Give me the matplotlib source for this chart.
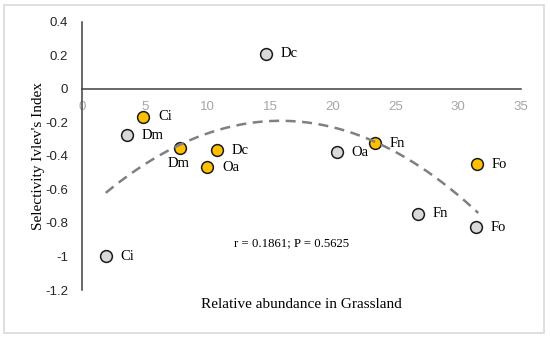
import numpy as np
import matplotlib.pyplot as plt
from matplotlib.patches import Rectangle

# -----------------------------
# Data
# -----------------------------
gray_labels = ["Dc", "Dm", "Ci", "Oa", "Fn", "Fo"]
gray_x = [14.7, 3.6, 1.9, 20.3, 26.8, 31.4]
gray_y = [0.21, -0.275, -1.0, -0.378, -0.745, -0.825]

yellow_labels = ["Ci", "Dm", "Dc", "Oa", "Fn", "Fo"]
yellow_x = [4.9, 7.8, 10.8, 10.0, 23.4, 31.5]
yellow_y = [-0.165, -0.355, -0.365, -0.467, -0.325, -0.45]

# polynomial trendline, three points
trend_x = [1.9, 16.0, 31.6]
trend_y = [-0.62, -0.19, -0.74]

stat_text = "r = 0.1861; P = 0.5625"

# -----------------------------
# Figure
# -----------------------------
fig = plt.figure(figsize=(5.5, 3.38), dpi=100)
fig.patches.append(Rectangle((4 / 550, 5 / 338), 540 / 550, 328 / 338,
                             transform=fig.transFigure, fill=False,
                             edgecolor="#d9d9d9", linewidth=1.2))
ax = fig.add_axes([0.149, 0.142, 0.798, 0.793])

serif = "Liberation Serif"
sans = "Liberation Sans"

# trendline
coef = np.polyfit(trend_x, trend_y, 2)
xs = np.linspace(trend_x[0], trend_x[-1], 200)
ax.plot(xs, np.polyval(coef, xs), color="#808080", lw=1.8,
        dashes=(4, 2.6), zorder=4)

ax.scatter(gray_x, gray_y, s=72, color="#d9d9d9", edgecolor="#1a1a1a",
           linewidth=1.1, zorder=3)
ax.scatter(yellow_x, yellow_y, s=72, color="#ffc000", edgecolor="#1a1a1a",
           linewidth=1.1, zorder=3)

# point labels
for lab, x, y in zip(gray_labels, gray_x, gray_y):
    ax.annotate(lab, (x, y), xytext=(10.5, 0), textcoords="offset points",
                va="center", ha="left", fontsize=10.5, family=serif)
for lab, x, y in zip(yellow_labels, yellow_x, yellow_y):
    if lab == "Dm":
        ax.annotate(lab, (x, y), xytext=(-1, -11), textcoords="offset points",
                    va="center", ha="center", fontsize=10.5, family=serif)
    else:
        ax.annotate(lab, (x, y), xytext=(10.5, 0), textcoords="offset points",
                    va="center", ha="left", fontsize=10.5, family=serif)

ax.text(12.1, -0.92, stat_text, fontsize=9.2, family=serif, va="center")

# axes
ax.set_xlim(0, 35)
ax.set_ylim(-1.2, 0.4)
ax.set_xticks(range(0, 36, 5))
ax.set_yticks(np.arange(-1.2, 0.41, 0.2))
ax.set_yticklabels(["-1.2", "-1", "-0.8", "-0.6", "-0.4", "-0.2", "0", "0.2", "0.4"])

for side in ["top", "right"]:
    ax.spines[side].set_visible(False)
ax.spines["bottom"].set_position(("data", 0))
ax.spines["bottom"].set_color("#404040")
ax.spines["left"].set_color("#404040")
ax.spines["bottom"].set_linewidth(1.1)
ax.spines["left"].set_linewidth(1.1)

ax.tick_params(axis="both", length=0)
ax.tick_params(axis="x", labelcolor="#a6a6a6", labelsize=9.5, pad=9)
ax.tick_params(axis="y", labelcolor="#262626", labelsize=9.5, pad=10)
for t in ax.get_xticklabels() + ax.get_yticklabels():
    t.set_family(sans)

ax.set_xlabel("Relative abundance in Grassland", fontsize=11, family=serif)
ax.xaxis.set_label_coords(0.5, -0.03)
ax.set_ylabel("Selectivity Ivlev's Index", fontsize=11, family=serif)
ax.yaxis.set_label_coords(-0.085, 0.5)

fig.savefig("out.png", dpi=100)
